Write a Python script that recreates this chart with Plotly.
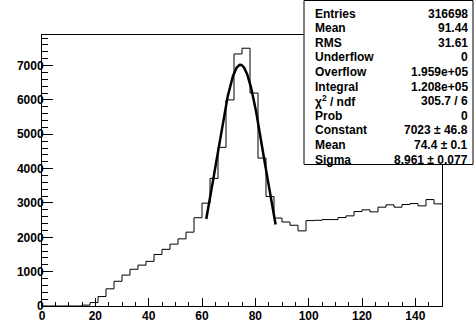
import plotly.graph_objects as go
import numpy as np

# ---- data ----
bin_edges = [i * 3 for i in range(51)]  # 0..150, 50 bins of width 3
counts = [0, 0, 0, 0, 0, 25, 100, 275, 500, 720,
          900, 1070, 1190, 1300, 1500, 1650, 1800, 1955, 2150, 2570,
          2995, 3715, 4620, 6000, 7338, 7505, 6200, 4306, 3187, 2560,
          2445, 2350, 2187, 2487, 2495, 2516, 2516, 2575, 2624, 2750,
          2799, 2741, 2877, 2945, 2877, 2955, 2983, 2915, 3099, 2974]

fit_constant = 7023
fit_mean = 74.4
fit_sigma = 8.961
fit_range = [61.6, 87.6]

stat_labels = ["Entries", "Mean", "RMS", "Underflow", "Overflow", "Integral",
               "χ<sup>2</sup> / ndf", "Prob", "Constant", "Mean", "Sigma"]
stat_values = ["316698", "91.44", "31.61", "0", "1.959e+05", "1.208e+05",
               "305.7 / 6", "0", "7023 ± 46.8", "74.4 ± 0.1", "8.961 ± 0.077"]

x_ticks = [0, 20, 40, 60, 80, 100, 120, 140]
y_ticks = [0, 1000, 2000, 3000, 4000, 5000, 6000, 7000]

# ---- figure ----
W, H = 474, 325
L, R, T, B = 42, 32, 35, 19
pw, ph = W - L - R, H - T - B

fig = go.Figure()
fig.add_trace(go.Scatter(
    x=bin_edges, y=counts + [counts[-1]], mode="lines",
    line=dict(shape="hv", color="black", width=1), hoverinfo="skip"))

xf = np.linspace(fit_range[0], fit_range[1], 200)
yf = fit_constant * np.exp(-0.5 * ((xf - fit_mean) / fit_sigma) ** 2)
fig.add_trace(go.Scatter(x=xf, y=yf, mode="lines",
                         line=dict(color="black", width=2.5), hoverinfo="skip"))

font = dict(family="Liberation Sans, Arial, Helvetica", size=12, color="black", weight="bold")

fig.update_layout(
    width=W, height=H, autosize=False, showlegend=False,
    margin=dict(l=L, r=R, t=T, b=B, pad=0, autoexpand=False),
    paper_bgcolor="white", plot_bgcolor="white",
    font=font,
    xaxis=dict(range=[0, 150], showgrid=False, zeroline=False, automargin=False,
               showline=True, linecolor="black", linewidth=1, mirror=True,
               ticks="inside", ticklen=8, tickcolor="black", tickwidth=1,
               tickvals=x_ticks, ticktext=[str(v) for v in x_ticks],
               minor=dict(ticks="inside", ticklen=4, dtick=5, tick0=0, tickcolor="black", showgrid=False),
               tickfont=font, ticklabelstandoff=-1),
    yaxis=dict(range=[0, 7890], showgrid=False, zeroline=False, automargin=False,
               showline=True, linecolor="black", linewidth=1, mirror=True,
               ticks="inside", ticklen=11, tickcolor="black", tickwidth=1,
               tickvals=y_ticks, ticktext=[str(v) for v in y_ticks],
               minor=dict(ticks="inside", ticklen=5.5, dtick=200, tick0=0, tickcolor="black", showgrid=False),
               tickfont=font, ticklabelstandoff=-5),
)

def px2paper_x(px):
    return (px - L) / pw

def px2paper_y(py):
    return (H - B - py) / ph

fig.add_shape(type="rect", xref="paper", yref="paper", layer="above",
              x0=px2paper_x(304), x1=px2paper_x(473), y0=px2paper_y(164.5), y1=px2paper_y(0.5),
              fillcolor="white", line=dict(color="black", width=1))

for i, (lab, val) in enumerate(zip(stat_labels, stat_values)):
    yy = px2paper_y(13.5 + i * 14.6)
    fig.add_annotation(x=px2paper_x(312.5), y=yy, xref="paper", yref="paper",
                       text=lab, showarrow=False, xanchor="left", yanchor="middle", font=font)
    fig.add_annotation(x=px2paper_x(469.5), y=yy, xref="paper", yref="paper",
                       text=val, showarrow=False, xanchor="right", yanchor="middle", font=font)

fig.write_html("out.html", config={"displayModeBar": False},
               post_script="document.body.style.margin='0px';document.body.style.overflow='hidden';")
